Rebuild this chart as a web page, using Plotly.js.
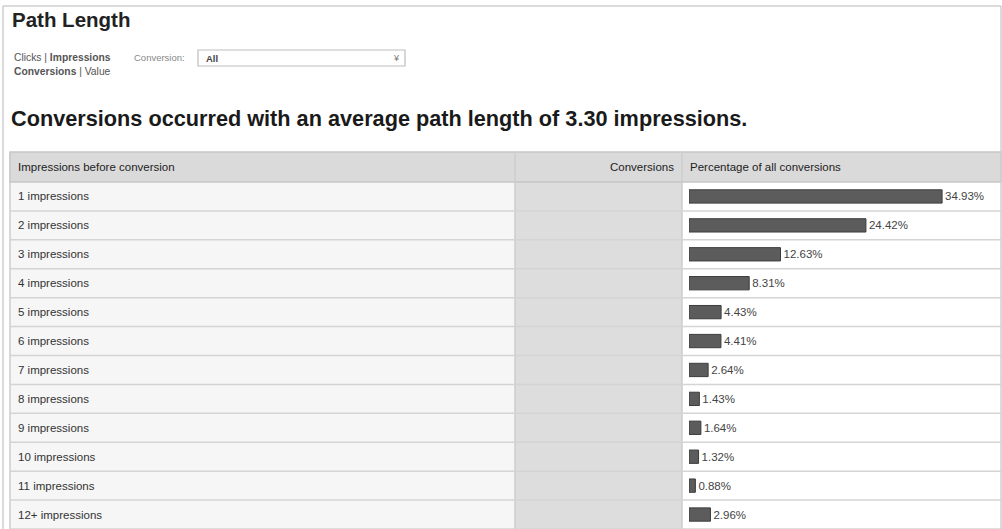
<!DOCTYPE html>
<html>
<head>
<meta charset="utf-8">
<script src="https://cdn.plot.ly/plotly-3.0.1.min.js"></script>
<style>
html,body{margin:0;padding:0;background:#fff;}
#chart{width:1002px;height:529px;}
</style>
</head>
<body>
<div id="chart"></div>
<script>
// ---- data ----
var pathLabels = ["1 impressions","2 impressions","3 impressions","4 impressions","5 impressions","6 impressions","7 impressions","8 impressions","9 impressions","10 impressions","11 impressions","12+ impressions"];
var pctConversions = [34.93, 24.42, 12.63, 8.31, 4.43, 4.41, 2.64, 1.43, 1.64, 1.32, 0.88, 2.96];
var pageTitle = "Path Length";
var headline = "Conversions occurred with an average path length of 3.30 impressions.";
var colHeaders = ["Impressions before conversion", "Conversions", "Percentage of all conversions"];

// ---- geometry helpers (pixels -> paper) ----
var W = 1002, H = 529;
function px(x){ return x / W; }
function py(y){ return 1 - y / H; }

var FONT = "Arial";
var tableTop = 152, headBottom = 182, tableBottom = 529;
var c0 = 10, c1 = 515, c2 = 682, c3 = 1001;

var shapes = [];
// outer frame lines
shapes.push({type:"line", xref:"paper", yref:"paper", x0:px(3), x1:px(1001), y0:py(6), y1:py(6), line:{color:"#cfcfcf", width:1.5}});
shapes.push({type:"line", xref:"paper", yref:"paper", x0:px(3), x1:px(3), y0:py(6), y1:py(529), line:{color:"#cfcfcf", width:1.5}});
shapes.push({type:"line", xref:"paper", yref:"paper", x0:px(1001), x1:px(1001), y0:py(6), y1:py(529), line:{color:"#cfcfcf", width:1.5}});
// body column backgrounds
shapes.push({type:"rect", layer:"below", xref:"paper", yref:"paper", x0:px(c0), x1:px(c1), y0:py(tableBottom), y1:py(headBottom), fillcolor:"#f6f6f6", line:{width:0}});
shapes.push({type:"rect", layer:"below", xref:"paper", yref:"paper", x0:px(c1), x1:px(c2), y0:py(tableBottom), y1:py(headBottom), fillcolor:"#dddddd", line:{width:0}});
shapes.push({type:"rect", layer:"below", xref:"paper", yref:"paper", x0:px(c2), x1:px(c3), y0:py(tableBottom), y1:py(headBottom), fillcolor:"#ffffff", line:{width:0}});
// header
shapes.push({type:"rect", layer:"below", xref:"paper", yref:"paper", x0:px(c0), x1:px(c3), y0:py(headBottom), y1:py(tableTop), fillcolor:"#dadada", line:{color:"#c6c6c6", width:1.5}});
// column dividers
[c0, c1, c2].forEach(function(cx){
  shapes.push({type:"line", layer:"below", xref:"paper", yref:"paper", x0:px(cx), x1:px(cx), y0:py(tableBottom), y1:py(tableTop), line:{color:"#cccccc", width:1.5}});
});
// row separators
for (var i = 0; i < pathLabels.length; i++) {
  shapes.push({type:"line", layer:"below", xref:"paper", yref:"y", x0:px(c0), x1:px(c3), y0:i+0.5, y1:i+0.5, line:{color:"#d4d4d4", width:1.5}});
}
// dropdown box
shapes.push({type:"rect", xref:"paper", yref:"paper", x0:px(198), x1:px(405), y0:py(66), y1:py(50), fillcolor:"#ffffff", line:{color:"#bdbdbd", width:1.2}});

var annotations = [];
annotations.push({xref:"paper", yref:"paper", x:px(10), y:py(19), xanchor:"left", yanchor:"middle", showarrow:false, text:"<b>"+pageTitle+"</b>", font:{family:FONT, size:20.5, color:"#222"}});
annotations.push({xref:"paper", yref:"paper", x:px(12), y:py(57), xanchor:"left", yanchor:"middle", showarrow:false, text:"Clicks | <b>Impressions</b>", font:{family:FONT, size:10.3, color:"#555"}});
annotations.push({xref:"paper", yref:"paper", x:px(12), y:py(72), xanchor:"left", yanchor:"middle", showarrow:false, text:"<b>Conversions</b> | Value", font:{family:FONT, size:10.3, color:"#555"}});
annotations.push({xref:"paper", yref:"paper", x:px(132), y:py(57), xanchor:"left", yanchor:"middle", showarrow:false, text:"Conversion:", font:{family:FONT, size:9.5, color:"#888"}});
annotations.push({xref:"paper", yref:"paper", x:px(204), y:py(58), xanchor:"left", yanchor:"middle", showarrow:false, text:"<b>All</b>", font:{family:FONT, size:9.5, color:"#444"}});
annotations.push({xref:"paper", yref:"paper", x:px(396), y:py(58), xanchor:"center", yanchor:"middle", showarrow:false, text:"¥", font:{family:FONT, size:9, color:"#777"}});
annotations.push({xref:"paper", yref:"paper", x:px(9), y:py(118), xanchor:"left", yanchor:"middle", showarrow:false, text:"<b>"+headline+"</b>", font:{family:FONT, size:21.7, color:"#1a1a1a"}});
// header labels
annotations.push({xref:"paper", yref:"paper", x:px(16), y:py(167), xanchor:"left", yanchor:"middle", showarrow:false, text:colHeaders[0], font:{family:FONT, size:11.5, color:"#222"}});
annotations.push({xref:"paper", yref:"paper", x:px(676), y:py(167), xanchor:"right", yanchor:"middle", showarrow:false, text:colHeaders[1], font:{family:FONT, size:11.5, color:"#222"}});
annotations.push({xref:"paper", yref:"paper", x:px(688), y:py(167), xanchor:"left", yanchor:"middle", showarrow:false, text:colHeaders[2], font:{family:FONT, size:11.5, color:"#222"}});
// row labels
pathLabels.forEach(function(lab){
  annotations.push({xref:"paper", yref:"y", x:px(16), y:lab, xanchor:"left", yanchor:"middle", showarrow:false, text:lab, font:{family:FONT, size:11.5, color:"#333"}});
});

var trace = {
  type:"bar",
  orientation:"h",
  x: pctConversions,
  y: pathLabels,
  width: 0.46,
  marker:{color:"#5c5c5c", line:{color:"#3c3c3c", width:1}},
  text: pctConversions.map(function(v){ return v.toFixed(2) + "%"; }),
  textposition:"outside",
  constraintext:"none",
  cliponaxis:false,
  textfont:{family:FONT, size:11.5, color:"#444"},
  hoverinfo:"none"
};

var layout = {
  width: W, height: H,
  margin:{l:0, r:0, t:0, b:0},
  paper_bgcolor:"#ffffff",
  plot_bgcolor:"rgba(0,0,0,0)",
  showlegend:false,
  xaxis:{domain:[px(689), 1], range:[0, 43.2], showgrid:false, zeroline:false, showticklabels:false, showline:false, fixedrange:true},
  yaxis:{domain:[0, py(headBottom)], type:"category", categoryorder:"array", categoryarray:pathLabels, range:[11.5, -0.5], showgrid:false, zeroline:false, showticklabels:false, showline:false, fixedrange:true},
  shapes: shapes,
  annotations: annotations,
  bargap: 0
};

Plotly.newPlot("chart", [trace], layout, {displayModeBar:false, staticPlot:true});
</script>
</body>
</html>
